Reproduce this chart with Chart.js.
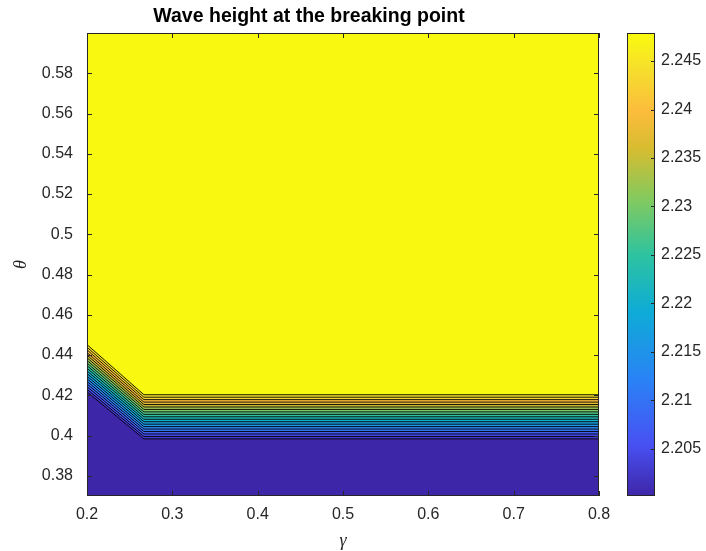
<!DOCTYPE html>
<html>
<head>
<meta charset="utf-8">
<script src="https://cdn.jsdelivr.net/npm/chart.js@4.4.1/dist/chart.umd.min.js"></script>
<style>
  body { margin: 0; background: #fff; }
  canvas { display: block; }
</style>
</head>
<body>
<canvas id="waveChart" width="706" height="551"></canvas>
<script>
// Contour data
const gammaNodes = [0.2, 0.2667, 0.8];          // grid columns where the band bends
const thetaAtMin = [0.4205, 0.3972, 0.3972];    // theta where z is at its minimum
const thetaAtMax = [0.4454, 0.4205, 0.4205];    // theta where z reaches its maximum
const zMin = 2.2001;
const zMax = 2.2479;
const levels = [2.2025, 2.205, 2.2075, 2.21, 2.2125, 2.215, 2.2175, 2.22, 2.2225, 2.225,
                2.2275, 2.23, 2.2325, 2.235, 2.2375, 2.24, 2.2425, 2.245, 2.2475];
const xTicks = [0.2, 0.3, 0.4, 0.5, 0.6, 0.7, 0.8];
const yTicks = [0.38, 0.4, 0.42, 0.44, 0.46, 0.48, 0.5, 0.52, 0.54, 0.56, 0.58];
const cbTicks = [2.205, 2.21, 2.215, 2.22, 2.225, 2.23, 2.235, 2.24, 2.245];

// parula colormap stops
const parulaPos = [0, 0.11, 0.25, 0.40, 0.52, 0.64, 0.75, 0.83, 0.92, 1];
const parulaRGB = [
  [62, 38, 168], [72, 80, 242], [42, 130, 246], [14, 172, 214], [45, 195, 160],
  [130, 202, 95], [215, 188, 48], [252, 188, 60], [246, 222, 44], [249, 251, 14]
];

const axisColor = '#262626';
const fontFamily = "'Liberation Sans', Arial, Helvetica, sans-serif";

function parula(t) {
  t = Math.max(0, Math.min(1, t));
  for (let i = 1; i < parulaPos.length; i++) {
    if (t <= parulaPos[i]) {
      const f = (t - parulaPos[i - 1]) / (parulaPos[i] - parulaPos[i - 1]);
      const a = parulaRGB[i - 1], b = parulaRGB[i];
      return `rgb(${Math.round(a[0] + (b[0] - a[0]) * f)},${Math.round(a[1] + (b[1] - a[1]) * f)},${Math.round(a[2] + (b[2] - a[2]) * f)})`;
    }
  }
  return 'rgb(249,251,14)';
}

function colorFor(z) {
  return parula((z - zMin) / (zMax - zMin));
}

// one contour line per level, placed along the band between the two boundaries
function contourLine(level) {
  const f = (level - zMin) / (zMax - zMin);
  return gammaNodes.map((g, i) => ({ x: g, y: thetaAtMin[i] + f * (thetaAtMax[i] - thetaAtMin[i]) }));
}

const datasets = levels.map((lv, k) => ({
  data: contourLine(lv),
  borderColor: '#000',
  borderWidth: 0.9,
  pointRadius: 0,
  tension: 0,
  fill: 'start',
  backgroundColor: k === 0 ? colorFor(zMin) : colorFor(levels[k - 1])
}));

const framePlugin = {
  id: 'frame',
  beforeDatasetsDraw(chart) {
    const { ctx, chartArea: a } = chart;
    ctx.save();
    ctx.fillStyle = colorFor(levels[levels.length - 1]);
    ctx.fillRect(a.left, a.top, a.right - a.left, a.bottom - a.top);
    ctx.restore();
  },
  afterDraw(chart) {
    const { ctx, chartArea: a, scales } = chart;
    const tk = 5;
    ctx.save();
    ctx.strokeStyle = axisColor;
    ctx.lineWidth = 1;
    ctx.strokeRect(a.left + 0.5, a.top + 0.5, a.right - a.left - 1, a.bottom - a.top - 1);

    ctx.beginPath();
    xTicks.forEach(v => {
      const px = Math.round(scales.x.getPixelForValue(v)) + 0.5;
      ctx.moveTo(px, a.bottom); ctx.lineTo(px, a.bottom - tk);
      ctx.moveTo(px, a.top); ctx.lineTo(px, a.top + tk);
    });
    yTicks.forEach(v => {
      const py = Math.round(scales.y.getPixelForValue(v)) + 0.5;
      ctx.moveTo(a.left, py); ctx.lineTo(a.left + tk, py);
      ctx.moveTo(a.right, py); ctx.lineTo(a.right - tk, py);
    });
    ctx.stroke();

    // colorbar
    const cb = scales.cb;
    const cbL = 627, cbR = 655;
    const yTop = cb.getPixelForValue(zMax), yBot = cb.getPixelForValue(zMin);
    const grad = ctx.createLinearGradient(0, yBot, 0, yTop);
    parulaPos.forEach(p => grad.addColorStop(p, parula(p)));
    ctx.fillStyle = grad;
    ctx.fillRect(cbL, yTop, cbR - cbL, yBot - yTop);
    ctx.strokeRect(cbL + 0.5, yTop + 0.5, cbR - cbL - 1, yBot - yTop - 1);
    ctx.beginPath();
    cbTicks.forEach(v => {
      const py = Math.round(cb.getPixelForValue(v)) + 0.5;
      ctx.moveTo(cbR, py); ctx.lineTo(cbR - 4, py);
    });
    ctx.stroke();

    // title and axis labels
    ctx.fillStyle = '#000';
    ctx.textAlign = 'center';
    ctx.textBaseline = 'middle';
    ctx.font = `bold 19.5px ${fontFamily}`;
    ctx.fillText('Wave height at the breaking point', 309, 17);

    ctx.fillStyle = axisColor;
    ctx.font = "italic 18px 'Liberation Serif', 'DejaVu Serif', serif";
    ctx.fillText('\u03b3', (a.left + a.right) / 2, 541);
    ctx.translate(21, (a.top + a.bottom) / 2);
    ctx.rotate(-Math.PI / 2);
    ctx.fillText('\u03b8', 0, 0);
    ctx.restore();
  }
};

const tickFont = { family: fontFamily, size: 16 };

// keep label overflow from pushing the plot box around
function noPad(s) {
  s.paddingTop = 0; s.paddingBottom = 0; s.paddingLeft = 0; s.paddingRight = 0;
}

new Chart(document.getElementById('waveChart'), {
  type: 'line',
  data: { datasets },
  options: {
    responsive: false,
    animation: false,
    layout: { padding: { top: 33, left: 0, right: 0, bottom: 0 } },
    plugins: { legend: { display: false }, title: { display: false }, tooltip: { enabled: false } },
    scales: {
      x: {
        type: 'linear', min: 0.2, max: 0.8,
        afterBuildTicks: s => { s.ticks = xTicks.map(v => ({ value: v })); },
        afterFit: s => { s.height = 55; noPad(s); },
        grid: { display: false, drawTicks: false },
        border: { display: false },
        ticks: { autoSkip: false, maxRotation: 0, padding: 9, color: axisColor, font: tickFont,
                 callback: v => String(v) }
      },
      y: {
        type: 'linear', min: 0.37, max: 0.6,
        afterBuildTicks: s => { s.ticks = yTicks.map(v => ({ value: v })); },
        afterFit: s => { s.width = 87; noPad(s); },
        grid: { display: false, drawTicks: false },
        border: { display: false },
        ticks: { autoSkip: false, padding: 14, color: axisColor, font: tickFont,
                 callback: v => String(v) }
      },
      cb: {
        type: 'linear', position: 'right', min: zMin, max: zMax,
        afterBuildTicks: s => { s.ticks = cbTicks.map(v => ({ value: v })); },
        afterFit: s => { s.width = 107; noPad(s); },
        grid: { display: false, drawTicks: false },
        border: { display: false },
        ticks: { autoSkip: false, padding: 62, color: axisColor, font: tickFont,
                 callback: v => String(v) }
      }
    }
  },
  plugins: [framePlugin]
});
</script>
</body>
</html>
